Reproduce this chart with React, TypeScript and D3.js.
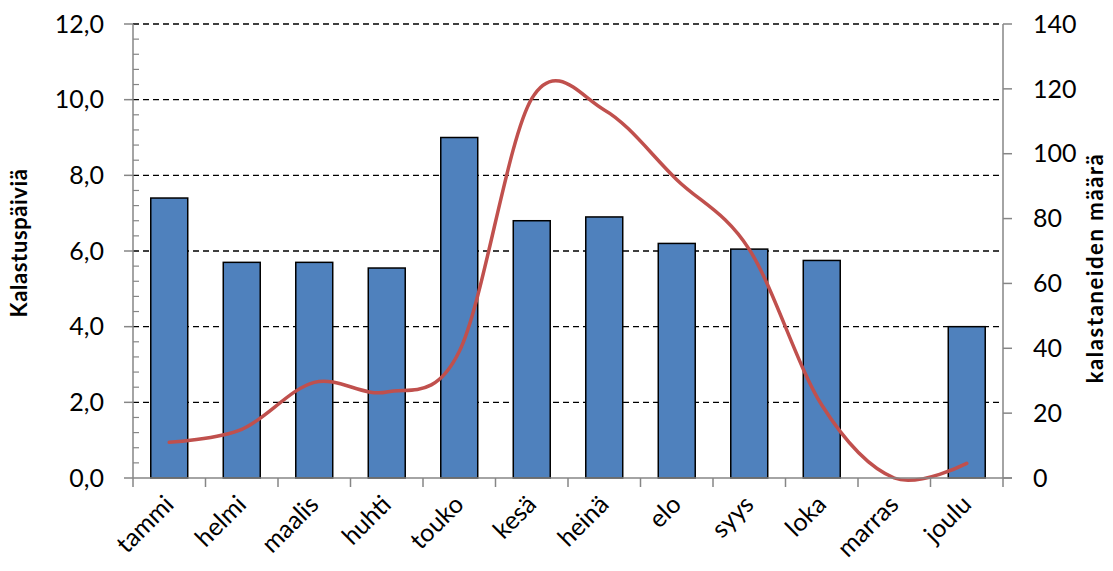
import React from "react";
import * as d3 from "d3";

const months = ["tammi", "helmi", "maalis", "huhti", "touko", "kesä", "heinä", "elo", "syys", "loka", "marras", "joulu"];
const fishingDays = [7.4, 5.7, 5.7, 5.55, 9.0, 6.8, 6.9, 6.2, 6.05, 5.75, 0, 4.0];
const anglerCounts = [11, 15, 29.5, 26.5, 39, 117, 113.5, 92, 70.5, 22.5, 0, 4.5];
const leftTicks = [0, 2, 4, 6, 8, 10, 12];
const rightTicks = [0, 20, 40, 60, 80, 100, 120, 140];

const W = 1113;
const H = 571;
const left = 133;
const right = 1003;
const top = 24;
const bottom = 478;
const font = "Lato, 'Open Sans', sans-serif";
const axisColor = "#868686";

export default function App() {
  const x = d3.scaleBand<string>().domain(months).range([left, right]).paddingInner(0.49).paddingOuter(0.245);
  const band = d3.scaleBand<string>().domain(months).range([left, right]);
  const yL = d3.scaleLinear().domain([0, 12]).range([bottom, top]);
  const yR = d3.scaleLinear().domain([0, 140]).range([bottom, top]);

  const minorTicks = d3.range(0, 12.001, 0.4).filter((v) => Math.abs(v / 2 - Math.round(v / 2)) > 0.01);

  const line = d3
    .line<number>()
    .x((_, i) => band(months[i])! + band.bandwidth() / 2)
    .y((d) => yR(d))
    .curve(d3.curveCatmullRom.alpha(0));

  return (
    <svg width={W} height={H} style={{ position: "absolute", left: 0, top: 0, background: "#fff" }}>
      {/* grid */}
      {leftTicks.filter((t) => t > 0).map((t) => (
        <line key={t} x1={left} x2={right} y1={yL(t)} y2={yL(t)} stroke="#000" strokeWidth={1.3} strokeDasharray="6,4" />
      ))}

      {/* bars */}
      {fishingDays.map((v, i) =>
        v > 0 ? (
          <rect
            key={months[i]}
            x={x(months[i])}
            y={yL(v)}
            width={x.bandwidth()}
            height={yL(0) - yL(v)}
            fill="#4F81BD"
            stroke="#000"
            strokeWidth={1.5}
          />
        ) : null
      )}

      {/* line */}
      <path d={line(anglerCounts) || ""} fill="none" stroke="#C0504D" strokeWidth={3.5} strokeLinecap="round" />

      {/* left axis */}
      <line x1={left} x2={left} y1={top} y2={bottom} stroke={axisColor} strokeWidth={1.5} />
      {leftTicks.map((t) => (
        <g key={t}>
          <line x1={left - 9} x2={left} y1={yL(t)} y2={yL(t)} stroke={axisColor} strokeWidth={1.5} />
          <text x={104} y={yL(t)} dy="0.35em" textAnchor="end" fontFamily={font} fontSize={25} fill="#000">
            {d3.format(".1f")(t).replace(".", ",")}
          </text>
        </g>
      ))}
      {minorTicks.map((t) => (
        <line key={t} x1={left} x2={left + 6} y1={yL(t)} y2={yL(t)} stroke={axisColor} strokeWidth={1.2} />
      ))}

      {/* right axis */}
      <line x1={right} x2={right} y1={top} y2={bottom} stroke={axisColor} strokeWidth={1.5} />
      {rightTicks.map((t) => (
        <g key={t}>
          <line x1={right} x2={right + 9} y1={yR(t)} y2={yR(t)} stroke={axisColor} strokeWidth={1.5} />
          <text x={1033} y={yR(t)} dy="0.35em" textAnchor="start" fontFamily={font} fontSize={25} fill="#000">
            {t}
          </text>
        </g>
      ))}

      {/* bottom axis */}
      <line x1={left} x2={right + 9} y1={bottom} y2={bottom} stroke={axisColor} strokeWidth={1.5} />
      {months.map((m) => (
        <line key={m} x1={band(m)!} x2={band(m)!} y1={bottom} y2={bottom + 9} stroke={axisColor} strokeWidth={1.5} />
      ))}
      <line x1={right} x2={right} y1={bottom} y2={bottom + 9} stroke={axisColor} strokeWidth={1.5} />
      {months.map((m) => {
        const cx = band(m)! + band.bandwidth() / 2 + 6;
        const cy = bottom + 28;
        return (
          <text
            key={m}
            x={cx}
            y={cy}
            textAnchor="end"
            fontFamily={font}
            fontSize={25}
            fill="#000"
            transform={`rotate(-45 ${cx} ${cy})`}
          >
            {m}
          </text>
        );
      })}

      {/* axis titles */}
      <text
        transform={`translate(27 ${(top + bottom) / 2 - 8}) rotate(-90)`}
        textAnchor="middle"
        fontFamily={font}
        fontWeight="bold"
        fontSize={22}
        letterSpacing={0.6}
        fill="#000"
      >
        Kalastuspäiviä
      </text>
      <text
        transform={`translate(1103 ${(top + bottom) / 2 + 17}) rotate(-90)`}
        textAnchor="middle"
        fontFamily={font}
        fontWeight="bold"
        fontSize={22}
        letterSpacing={1.6}
        fill="#000"
      >
        kalastaneiden määrä
      </text>
    </svg>
  );
}
